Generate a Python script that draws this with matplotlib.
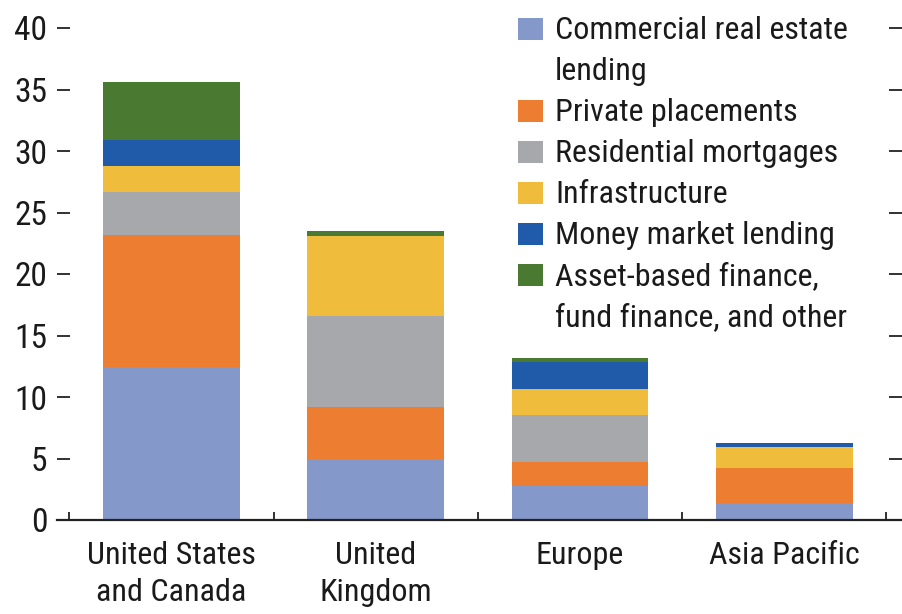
import matplotlib
matplotlib.use("Agg")
import matplotlib.pyplot as plt
from matplotlib.patches import Rectangle
import numpy as np

plt.rcParams['font.family'] = ['Liberation Sans Narrow', 'DejaVu Sans Condensed', 'Roboto Condensed', 'DejaVu Sans']

categories = ["United States\nand Canada", "United\nKingdom", "Europe", "Asia Pacific"]
series_names = ["Commercial real estate\nlending", "Private placements", "Residential mortgages",
                "Infrastructure", "Money market lending", "Asset-based finance,\nfund finance, and other"]
cre = [12.4, 5.0, 2.8, 1.35]
private_placements = [10.8, 4.2, 1.9, 2.9]
residential = [3.5, 7.4, 3.8, 0.0]
infrastructure = [2.1, 6.45, 2.15, 1.7]
money_market = [2.1, 0.0, 2.2, 0.35]
asset_based = [4.7, 0.45, 0.3, 0.0]
yticks = [0, 5, 10, 15, 20, 25, 30, 35, 40]

colors = ["#8598CA", "#ED7D31", "#A6A8AB", "#EFBC3B", "#1F5BA8", "#4A7A32"]
series = [cre, private_placements, residential, infrastructure, money_market, asset_based]

W, H = 902, 614
fig = plt.figure(figsize=(W / 100, H / 100), dpi=100)
ax = fig.add_axes([57 / W, (H - 520) / H, (W - 57) / W, (520 - 28) / H])

x = np.arange(len(categories))
bottom = np.zeros(len(categories))
for vals, c in zip(series, colors):
    v = np.array(vals)
    ax.bar(x, v, width=0.67, bottom=bottom, color=c, edgecolor='none', linewidth=0)
    bottom += v

ax.set_xlim(-0.561, 3.577)
ax.set_ylim(0, 40)
ax.set_yticks(yticks)
ax.set_yticklabels([str(t) for t in yticks])

for s in ['top', 'left', 'right']:
    ax.spines[s].set_visible(False)
ax.spines['bottom'].set_linewidth(1.6)
ax.spines['bottom'].set_color('#222222')

ax.tick_params(axis='y', direction='in', length=9.5, width=1.3, color='#222222',
               left=True, right=True, labelleft=True, labelright=False, pad=7,
               labelsize=24, labelcolor='#1a1a1a')
ax.set_xticks(x)
ax.set_xticklabels(categories, fontsize=23, color='#1a1a1a', linespacing=1.35)
ax.tick_params(axis='x', which='major', length=0, pad=15)
ax.set_xticks(np.arange(-0.5, 4.0, 1.0), minor=True)
ax.tick_params(axis='x', which='minor', direction='in', length=6, width=1.3, color='#222222')

# legend (manual, aligned with first line of each label)
centers = [29, 111, 152, 193, 234, 275]
for name, c, cy in zip(series_names, colors, centers):
    fig.add_artist(Rectangle((518 / W, (H - cy - 11) / H), 25 / W, 22 / H,
                             transform=fig.transFigure, facecolor=c, edgecolor='none'))
    for k, line in enumerate(name.split("\n")):
        fig.text(555 / W, (H - (cy + 10 + 41 * k)) / H, line, fontsize=23,
                 va='baseline', ha='left', color='#1a1a1a')

fig.savefig("out.png", dpi=100)
